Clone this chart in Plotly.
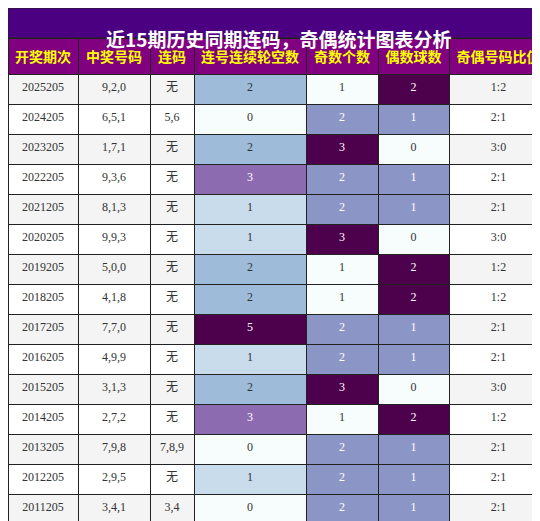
import plotly.graph_objects as go

periods = ["2025205", "2024205", "2023205", "2022205", "2021205", "2020205", "2019205",
           "2018205", "2017205", "2016205", "2015205", "2014205", "2013205", "2012205", "2011205"]
numbers = ["9,2,0", "6,5,1", "1,7,1", "9,3,6", "8,1,3", "9,9,3", "5,0,0", "4,1,8", "7,7,0",
           "4,9,9", "3,1,3", "2,7,2", "7,9,8", "2,9,5", "3,4,1"]
consec = ["无", "5,6", "无", "无", "无", "无", "无", "无", "无", "无", "无", "无", "7,8,9", "无", "3,4"]
gap = [2, 0, 2, 3, 1, 1, 2, 2, 5, 1, 2, 3, 0, 1, 0]
odd = [1, 2, 3, 2, 2, 3, 1, 1, 2, 2, 3, 1, 2, 2, 2]
even = [2, 1, 0, 1, 1, 0, 2, 2, 1, 1, 0, 2, 1, 1, 1]
ratio = ["1:2", "2:1", "3:0", "2:1", "2:1", "3:0", "1:2", "1:2", "2:1", "2:1", "3:0", "1:2",
         "2:1", "2:1", "2:1"]
headers = ["开奖期次", "中奖号码", "连码", "连号连续轮空数", "奇数个数", "偶数球数", "奇偶号码比值"]

gap_col = {0: "#f7fcfd", 1: "#c9dcec", 2: "#9ebcda", 3: "#8c6bb1", 5: "#4d004b"}
oe_col = {0: "#f7fcfd", 1: "#f7fcfd", 2: "#8c96c6", 3: "#4d004b"}
oe_col2 = {0: "#f7fcfd", 1: "#8c96c6", 2: "#4d004b", 3: "#4d004b"}


def txt(cols, light):
    return ["white" if c in light else "#333333" for c in cols]


stripe = ["#f4f4f4" if i % 2 == 0 else "white" for i in range(len(periods))]
gc = [gap_col[v] for v in gap]
oc = [oe_col[v] for v in odd]
ec = [oe_col2[v] for v in even]
dark = ("#8c6bb1", "#8c96c6", "#4d004b")

fig = go.Figure(go.Table(
    columnwidth=[70, 72, 44, 112, 72, 71, 99],
    domain=dict(x=[0, 1], y=[0, 1 - 30 / 521]),
    header=dict(values=["<b>%s</b>" % h for h in headers], fill_color="#800080",
                font=dict(color="#ffff00", size=14, family="Noto Sans CJK SC"),
                align="center", height=34, line=dict(color="#222222", width=1)),
    cells=dict(values=[periods, numbers, consec, gap, odd, even, ratio],
               fill_color=[stripe, stripe, stripe, gc, oc, ec, stripe],
               font=dict(color=[["#333333"] * 15, ["#333333"] * 15, ["#333333"] * 15,
                                txt(gc, dark), txt(oc, dark), txt(ec, dark),
                                ["#333333"] * 15],
                         size=12, family="Liberation Serif, Noto Sans CJK SC"),
               align="center", height=30, line=dict(color="#222222", width=1)),
))
fig.add_shape(type="rect", xref="paper", yref="paper", x0=0, x1=1, y0=1 - 30 / 521, y1=1,
              fillcolor="#4b0082", line=dict(color="#222222", width=1))
fig.add_annotation(text="<b>近15期历史同期连码，奇偶统计图表分析</b>", xref="paper", yref="paper",
                   x=0.5, y=1 - 15 / 521, showarrow=False,
                   font=dict(color="white", size=19, family="Noto Sans CJK SC"))
fig.update_layout(width=540, height=521, margin=dict(l=0, r=0, t=0, b=0),
                  paper_bgcolor="white")
fig.write_html("out.html")
